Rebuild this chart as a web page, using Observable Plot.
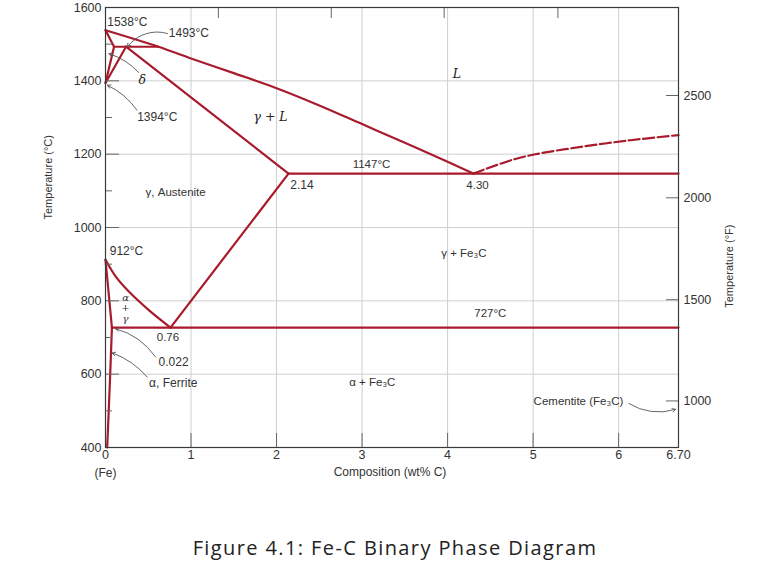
<!DOCTYPE html>
<html><head><meta charset="utf-8">
<script src="https://cdn.jsdelivr.net/npm/d3@7"></script>
<script src="https://cdn.jsdelivr.net/npm/@observablehq/plot@0.6"></script>
<style>
body{margin:0;background:#fff;}
#chart svg{display:block;}
#cap{width:773px;margin-top:35px;text-align:center;font:20px 'Open Sans',sans-serif;line-height:26px;color:#222;padding-left:17px;box-sizing:border-box;letter-spacing:1.4px;}
</style></head><body>
<div id="chart"></div>
<div id="cap">Figure 4.1: Fe-C Binary Phase Diagram</div>
<script>
// ---- phase boundaries: [wt% C, °C] ----
const liquidus = [[0,1538],[0.62,1493],[1,1461],[1.5,1421],[2,1380],[2.5,1333],[3,1282],[3.5,1231],[4,1179],[4.3,1147]];
const deltaSolidus = [[0,1538],[0.10,1493]];
const deltaGammaUpper = [[0,1394],[0.10,1493]];
const gammaDeltaLower = [[0,1394],[0.24,1493]];
const peritectic = [[0.10,1493],[0.62,1493]];
const gammaSolidus = [[0.24,1493],[2.14,1147]];
const eutectic = [[2.14,1147],[6.70,1147]];
const acm = [[0.76,727],[2.14,1147]];
const a3 = [[0,912],[0.12,866],[0.27,826],[0.51,774],[0.76,727]];
const alphaGamma = [[0,912],[0.075,727]];
const alphaSolvus = [[0.075,727],[0.055,600],[0.02,400]];
const eutectoid = [[0.075,727],[6.70,727]];
const cementiteLiquidus = [[4.30,1147],[4.46,1161],[4.78,1186],[5.01,1199],[5.56,1220],[6.14,1238],[6.70,1252]];

// ---- annotations: [text, wt% C, °C] ----
const notesStart = [["1538°C",0.02,1560],["1493°C",0.74,1529],["1394°C",0.37,1302],["2.14",2.16,1115],["912°C",0.05,935],["0.022",0.62,633],["α, Ferrite",0.51,576]];
const notesMiddle = [["1147°C",3.11,1173],["4.30",4.35,1115],["γ, Austenite",0.82,1096],["0.76",0.73,701],["γ + Fe₃C",4.19,930],["727°C",4.5,766],["α + Fe₃C",3.12,578],["Cementite (Fe₃C)",5.53,526]];
const notesGreek = [["δ",0.43,1402],["γ + L",1.93,1301],["L",4.11,1420]];
const notesStack = [["α",0.234,809],["+",0.234,780],["γ",0.234,750]];
// leaders: [from C, from T, to C, to T]
const leaders = [[0.725,1529,0.257,1493],[0.386,1423,0.041,1474],[0.368,1320,0.023,1388],[0.585,647,0.117,724],[0.488,592,0.078,658],[6.12,520,6.665,504]];
const leaderBends = [-35,-15,-15,-20,-15,-25];

// ---- axes ----
const yMajor = [400,600,800,1000,1200,1400,1600];
const yMinor = [500,700,900,1100,1300,1500];
const yGrid = [600,800,1000,1200,1400];
const xGrid = [1,2,3,4,5,6];
const xLabelVals = [0,1,2,3,4,5,6,6.7];
const xLabelText = ["0","1","2","3","4","5","6","6.70"];
const topTicks = [1.32,2.64,3.96,5.29];
const fLabels = ["2500","2000","1500","1000"];
const fAtC = [1360,1081,803,527];

const RED = "#a91b2c";
const lineOpts = (curve) => ({x: d => d[0], y: d => d[1], stroke: RED, strokeWidth: 2.2, curve, strokeLinejoin: "round"});
const xLabelMap = new Map(xLabelVals.map((v,i) => [v, xLabelText[i]]));
const fMap = new Map(fAtC.map((v,i) => [v, fLabels[i]]));
const sans = "'Liberation Sans', Arial, sans-serif";

const straight = [deltaSolidus, deltaGammaUpper, gammaDeltaLower, peritectic, gammaSolidus, eutectic, acm, alphaGamma, eutectoid];
const curved = [liquidus, a3, alphaSolvus];

const chart = Plot.plot({
  width: 773, height: 500,
  marginLeft: 105, marginRight: 95, marginTop: 7, marginBottom: 53,
  style: {fontFamily: sans, fontSize: "12px", color: "#333", background: "#fff"},
  x: {domain: [0, 6.7]},
  y: {domain: [400, 1600]},
  marks: [
    Plot.gridX(xGrid, {stroke: "#cfcfcf", strokeOpacity: 1}),
    Plot.gridY(yGrid, {stroke: "#cfcfcf", strokeOpacity: 1}),
    ...straight.map(s => Plot.line(s, lineOpts("linear"))),
    ...curved.map(s => Plot.line(s, lineOpts("catmull-rom"))),
    Plot.line(cementiteLiquidus, {...lineOpts("catmull-rom"), strokeDasharray: "11,3.5"}),
    // axes
    Plot.axisY(yMajor, {anchor: "left", tickSize: 0, tickPadding: 4, fontSize: 12.5, label: null, fill: "#333", tickFormat: d => String(d)}),
    Plot.axisY(yMajor, {anchor: "left", tickSize: -14, fill: "none", label: null, stroke: "#666"}),
    Plot.axisY(yMinor, {anchor: "left", tickSize: -7, fill: "none", label: null, stroke: "#666"}),
    Plot.axisY(fAtC, {anchor: "right", tickSize: -13, fill: "none", label: null, stroke: "#666"}),
    Plot.axisY(fAtC, {anchor: "right", tickSize: 0, tickPadding: 5, fontSize: 12.5, label: null, fill: "#333", tickFormat: d => fMap.get(d)}),
    Plot.axisX(xGrid, {anchor: "bottom", tickSize: -14, fill: "none", label: null, stroke: "#666"}),
    Plot.axisX(xLabelVals, {anchor: "bottom", tickSize: 0, tickPadding: 3, fontSize: 12.5, label: null, fill: "#333", tickFormat: d => xLabelMap.get(d)}),
    Plot.axisX(topTicks, {anchor: "top", tickSize: -10, fill: "none", label: null, stroke: "#666"}),
    Plot.frame({stroke: "#3a3a3a", strokeWidth: 1.2}),
    Plot.text(["Composition (wt% C)"], {frameAnchor: "bottom", dx: -2, dy: 28, fontSize: 12, fill: "#333"}),
    Plot.text([{c: 0, s: "(Fe)"}], {x: "c", text: "s", frameAnchor: "bottom", dy: 29, fontSize: 12, fill: "#333"}),
    Plot.text(["Temperature (°C)"], {frameAnchor: "left", dx: -57, dy: -8, rotate: -90, fontSize: 11, fill: "#333"}),
    Plot.text(["Temperature (°F)"], {frameAnchor: "right", dx: 51, dy: -3, rotate: -90, fontSize: 11, fill: "#333"}),
    // leaders
    ...leaders.map((l, i) => Plot.arrow([l], {x1: d => d[0], y1: d => d[1], x2: d => d[2], y2: d => d[3], bend: leaderBends[i], stroke: "#555", strokeWidth: 0.9, headLength: 6})),
    // annotations
    Plot.text(notesStart, {x: d => d[1], y: d => d[2], text: d => d[0], textAnchor: "start", fontSize: 12, fill: "#333"}),
    Plot.text(notesMiddle, {x: d => d[1], y: d => d[2], text: d => d[0], fontSize: 11.5, fill: "#333"}),
    Plot.text(notesGreek, {x: d => d[1], y: d => d[2], text: d => d[0], fontSize: 12.5, fontStyle: "italic", fontFamily: "'DejaVu Serif', serif", fill: "#222"}),
    Plot.text(notesStack, {x: d => d[1], y: d => d[2], text: d => d[0], fontSize: 10, fontStyle: "italic", fontFamily: "'DejaVu Serif', serif", fill: "#333"})
  ]
});
document.getElementById("chart").appendChild(chart);
</script>
</body></html>
